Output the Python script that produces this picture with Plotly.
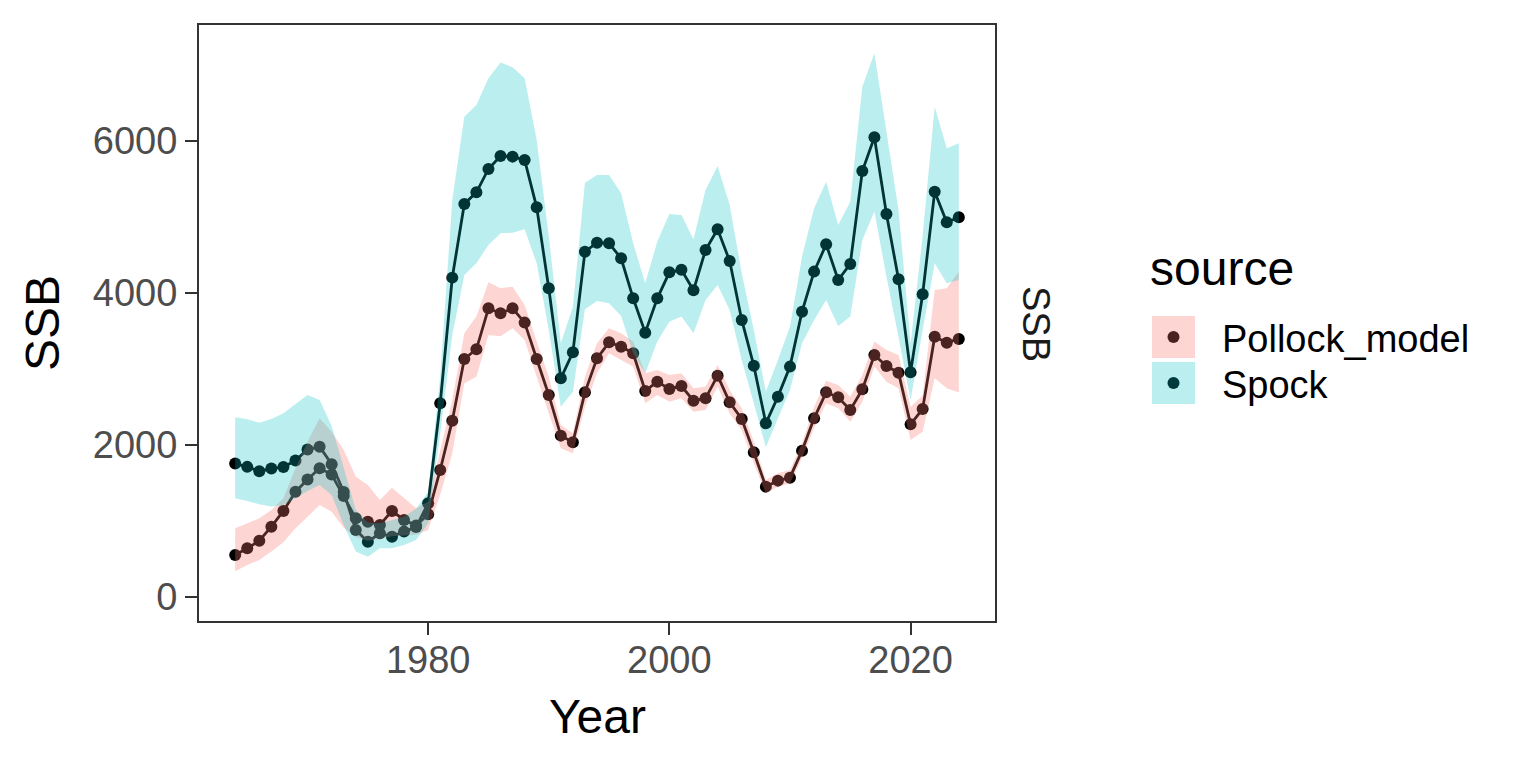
import plotly.graph_objects as go

years = list(range(1964, 2025))

pollock_ssb = [553, 640, 740, 925, 1132, 1386, 1545, 1693, 1610, 1330,
               1035, 991, 947, 1132, 1013, 940, 1088, 1671, 2320, 3132,
               3259, 3798, 3732, 3798, 3610, 3132, 2658, 2123, 2035, 2693,
               3140, 3351, 3294, 3206, 2711, 2833, 2737, 2775, 2583, 2614,
               2912, 2561, 2342, 1904, 1452, 1531, 1570, 1925, 2351, 2693,
               2627, 2461, 2732, 3184, 3039, 2951, 2272, 2474, 3425, 3346,
               3395]
pollock_upper = [904, 969, 1035, 1145, 1298, 1693, 2044, 2351, 2175, 1934,
                 1583, 1474, 1276, 1438, 1298, 1167, 1254, 1934, 2592, 3469,
                 3689, 4140, 4062, 4083, 3842, 3360, 2899, 2263, 2154, 2899,
                 3338, 3535, 3469, 3360, 2943, 2987, 2921, 2943, 2746, 2768,
                 3053, 2724, 2482, 2044, 1540, 1627, 1671, 2022, 2504, 2846,
                 2790, 2636, 2921, 3360, 3250, 3184, 2504, 2650, 4039, 4062,
                 4280]
pollock_lower = [340, 421, 487, 597, 720, 904, 1057, 1211, 1123, 910,
                 790, 740, 760, 800, 810, 820, 880, 1350, 1890, 2811,
                 2899, 3447, 3430, 3535, 3382, 2899, 2417, 1956, 1890, 2504,
                 2943, 3206, 3119, 3031, 2548, 2658, 2570, 2614, 2438, 2461,
                 2768, 2417, 2197, 1759, 1364, 1452, 1496, 1825, 2219, 2548,
                 2482, 2307, 2570, 3031, 2833, 2746, 2066, 2175, 2877, 2746,
                 2689]

spock_ssb = [1755, 1712, 1655, 1690, 1710, 1795, 1940, 1978, 1746, 1380,
             882, 728, 838, 794, 860, 920, 1232, 2548, 4202, 5171,
             5325, 5632, 5803, 5794, 5750, 5127, 4062, 2877, 3219, 4544,
             4662, 4654, 4457, 3930, 3478, 3930, 4272, 4305, 4035, 4566,
             4838, 4421, 3645, 3044, 2285, 2636, 3031, 3754, 4281, 4640,
             4171, 4382, 5605, 6049, 5040, 4180, 2956, 3983, 5333, 4930,
             4996]
spock_upper = [2364, 2338, 2294, 2342, 2417, 2535, 2658, 2592, 2250, 1700,
               1145, 980, 970, 1010, 1060, 1160, 1380, 2900, 5224, 6320,
               6474, 6825, 7032, 6970, 6825, 6013, 4750, 3338, 3820, 5452,
               5553, 5553, 5311, 4654, 4127, 4676, 5040, 5026, 4706, 5355,
               5671, 5158, 4259, 3513, 2702, 3119, 3557, 4478, 5114, 5465,
               4895, 5202, 6715, 7154, 6145, 5092, 3338, 4750, 6452, 5903,
               5969]
spock_lower = [1298, 1263, 1219, 1190, 1211, 1298, 1395, 1474, 1342, 947,
               597, 531, 640, 640, 684, 750, 969, 2154, 3447, 4237,
               4390, 4632, 4785, 4794, 4838, 4390, 3513, 2504, 2702, 3785,
               3895, 3864, 3697, 3206, 2943, 3360, 3623, 3689, 3469, 3908,
               4105, 3776, 3119, 2548, 1970, 2351, 2724, 3338, 3645, 3908,
               3566, 3689, 4697, 5070, 4215, 3425, 2592, 3513, 4390, 4127,
               4170]

sources = ["Pollock_model", "Spock"]
ribbon_colors = ["rgba(248,118,109,0.3)", "rgba(0,191,196,0.27)"]
key_dot_colors = ["#4A2321", "#003A3C"]
y_ticks = [0, 2000, 4000, 6000]
x_ticks = [1980, 2000, 2020]

FONT = "Liberation Sans, Arial, sans-serif"

# panel geometry in screenshot pixels
L, R, T, B = 199, 995, 25, 621
W, H = 1536, 768
OFF = 8  # page body margin


def px(xp):
    return (xp - L) / (R - L)


def py(yp):
    return (B - yp) / (B - T)


fig = go.Figure()

series = [(pollock_ssb, pollock_lower, pollock_upper),
          (spock_ssb, spock_lower, spock_upper)]

# black lines + points first
for name, (ssb, lo, hi) in zip(sources, series):
    fig.add_trace(go.Scatter(
        x=years, y=ssb, mode="lines+markers", name=name,
        line=dict(color="black", width=2.8),
        marker=dict(color="black", size=12),
        showlegend=False, hoverinfo="skip"))

# translucent ribbons on top
for name, (ssb, lo, hi), col in zip(sources, series, ribbon_colors):
    fig.add_trace(go.Scatter(
        x=years + years[::-1], y=hi + lo[::-1],
        mode="lines", fill="toself", fillcolor=col,
        line=dict(width=0, color="rgba(0,0,0,0)"),
        showlegend=False, hoverinfo="skip"))

shapes = []
annotations = []

# legend keys
key_tops = [316, 362]
for i, name in enumerate(sources):
    top = key_tops[i]
    shapes.append(dict(type="rect", xref="paper", yref="paper",
                       x0=px(1152), x1=px(1195), y0=py(top + 42), y1=py(top),
                       fillcolor=ribbon_colors[i], line=dict(width=0)))
    cx, cy = 1173.5, top + 21
    r = 6
    shapes.append(dict(type="circle", xref="paper", yref="paper",
                       x0=px(cx - r), x1=px(cx + r), y0=py(cy + r), y1=py(cy - r),
                       fillcolor=key_dot_colors[i], line=dict(width=0)))
    annotations.append(dict(text=name, xref="paper", yref="paper",
                            x=px(1220), y=py(top + 23), xanchor="left", yanchor="middle",
                            showarrow=False, font=dict(family=FONT, size=38, color="black")))

annotations.append(dict(text="source", xref="paper", yref="paper",
                        x=px(1148), y=py(268), xanchor="left", yanchor="middle",
                        showarrow=False, font=dict(family=FONT, size=48, color="black")))
annotations.append(dict(text="SSB", xref="paper", yref="paper",
                        x=px(42), y=py(323), xanchor="center", yanchor="middle",
                        textangle=-90, showarrow=False,
                        font=dict(family=FONT, size=48, color="black")))
annotations.append(dict(text="Year", xref="paper", yref="paper",
                        x=px(597), y=py(716), xanchor="center", yanchor="middle",
                        showarrow=False, font=dict(family=FONT, size=48, color="black")))
annotations.append(dict(text="SSB", xref="paper", yref="paper",
                        x=px(1036), y=py(324), xanchor="center", yanchor="middle",
                        textangle=90, showarrow=False,
                        font=dict(family=FONT, size=38, color="#1A1A1A")))

axis_common = dict(showgrid=False, zeroline=False, showline=True, mirror=True,
                   linecolor="#333333", linewidth=2, ticks="outside", ticklen=12,
                   tickwidth=2.2, tickcolor="#333333",
                   tickfont=dict(family=FONT, size=38, color="#4D4D4D"))

fig.update_layout(
    width=W, height=H,
    margin=dict(l=L - OFF, r=W - (R - OFF), t=T - OFF, b=H - (B - OFF)),
    paper_bgcolor="white", plot_bgcolor="white",
    xaxis=dict(range=[1961, 2027], tickvals=x_ticks, ticklabelstandoff=-8, **axis_common),
    yaxis=dict(range=[-316, 7526], tickvals=y_ticks, **axis_common),
    shapes=shapes, annotations=annotations,
    showlegend=False,
)

fig.write_html("out.html")
